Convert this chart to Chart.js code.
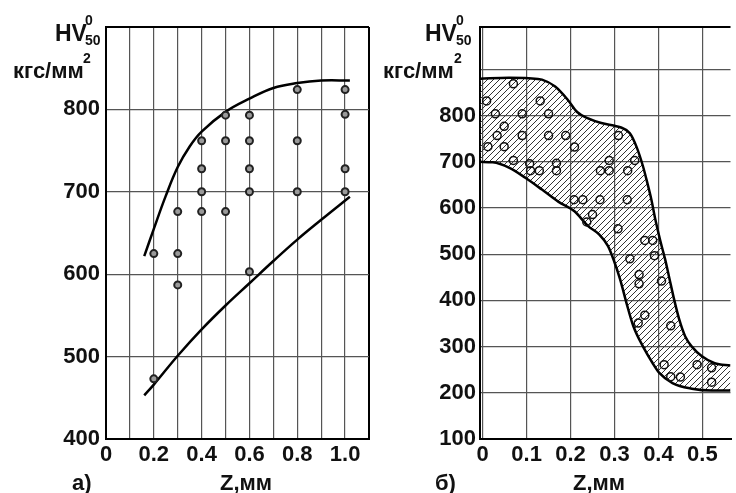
<!DOCTYPE html>
<html>
<head>
<meta charset="utf-8">
<script src="https://cdn.jsdelivr.net/npm/chart.js@4/dist/chart.umd.min.js"></script>
<style>
  html, body { margin: 0; padding: 0; background: #fff; overflow: hidden; }
  #a { position: absolute; left: 0; top: 0; }
  #b { position: absolute; left: 375px; top: 0; }
</style>
</head>
<body>
<canvas id="a" width="375" height="493"></canvas>
<canvas id="b" width="361" height="493"></canvas>
<script>
// ---- а) measured points and the two bounding curves
const zA = [0.2, 0.2, 0.3, 0.3, 0.3, 0.4, 0.4, 0.4, 0.4, 0.5, 0.5, 0.5, 0.6, 0.6, 0.6, 0.6, 0.6, 0.8, 0.8, 0.8, 1.0, 1.0, 1.0, 1.0]
const hvA = [625, 473, 676, 625, 587, 762, 728, 700, 676, 793, 762, 676, 793, 762, 728, 700, 603, 824, 762, 700, 824, 794, 728, 700]
const upperZA = [0.16, 0.2, 0.25, 0.3, 0.35, 0.4, 0.5, 0.6, 0.7, 0.8, 0.9, 1.02]
const upperHvA = [622, 655, 695, 730, 755, 773, 797, 813, 826, 832, 835, 835]
const lowerZA = [0.16, 0.2, 0.3, 0.4, 0.5, 0.6, 0.7, 0.8, 0.9, 1.02]
const lowerHvA = [453, 466, 501, 533, 562, 589, 616, 642, 666, 694]

const xTicksA = [0, 0.1, 0.2, 0.3, 0.4, 0.5, 0.6, 0.7, 0.8, 0.9, 1.0, 1.1]
const xLabelsA = ["0", "", "0.2", "", "0.4", "", "0.6", "", "0.8", "", "1.0", ""]
const yTicksA = [400, 500, 600, 700, 800, 900]
const yLabelsA = ["400", "500", "600", "700", "800", ""]

// ---- б) scatter band
const zB = [0.070, 0.009, 0.131, 0.029, 0.090, 0.150, 0.049, 0.033, 0.090, 0.150, 0.189, 0.309,
  0.012, 0.049, 0.209, 0.070, 0.107, 0.109, 0.129, 0.168, 0.168, 0.268, 0.288, 0.288, 0.330, 0.346,
  0.208, 0.228, 0.267, 0.329, 0.250, 0.237, 0.308, 0.369, 0.387, 0.335, 0.391, 0.356, 0.356, 0.407,
  0.369, 0.354, 0.428, 0.413, 0.428, 0.450, 0.488, 0.521, 0.521]
const hvB = [869, 832, 832, 804, 804, 804, 777, 757, 757, 757, 757, 757,
  733, 733, 732, 703, 696, 681, 681, 697, 681, 681, 703, 681, 681, 703,
  618, 618, 618, 618, 586, 570, 555, 530, 530, 490, 497, 456, 436, 442,
  368, 351, 345, 261, 235, 234, 261, 254, 223]
const upperZB = [-0.006, 0.06, 0.105, 0.135, 0.165, 0.194, 0.215, 0.24, 0.27, 0.30, 0.313, 0.335, 0.35,
  0.365, 0.373, 0.384, 0.393, 0.404, 0.415, 0.424, 0.435, 0.447, 0.461, 0.476, 0.499, 0.528, 0.564]
const upperHvB = [880, 882, 881, 878, 863, 834, 808, 794, 784, 778, 775, 762, 733,
  690, 661, 618, 575, 530, 490, 452, 405, 360, 322, 300, 279, 264, 259]
const lowerZB = [-0.006, 0.023, 0.061, 0.098, 0.135, 0.172, 0.209, 0.24, 0.265, 0.285, 0.298, 0.313,
  0.328, 0.343, 0.365, 0.387, 0.402, 0.432, 0.476, 0.521, 0.564]
const lowerHvB = [700, 699, 687, 665, 640, 614, 593, 561, 543, 518, 488, 445,
  392, 344, 300, 264, 243, 221, 209, 205, 205]

const xTicksB = [0, 0.1, 0.2, 0.3, 0.4, 0.5]
const xLabelsB = ["0", "0.1", "0.2", "0.3", "0.4", "0.5"]
const yTicksB = [100, 200, 300, 400, 500, 600, 700, 800, 900]
const yLabelsB = ["100", "200", "300", "400", "500", "600", "700", "800", ""]

const FONT = "'Liberation Sans', Arial, sans-serif"
const xy = (xs, ys) => xs.map((x, i) => ({ x, y: ys[i] }))

const hatch = (ctx) => {
  const c = document.createElement("canvas")
  c.width = 6
  c.height = 6
  const g = c.getContext("2d")
  g.strokeStyle = "#333"
  g.lineWidth = 1
  g.beginPath()
  g.moveTo(0, 6); g.lineTo(6, 0)
  g.moveTo(-1, 1); g.lineTo(1, -1)
  g.moveTo(5, 7); g.lineTo(7, 5)
  g.stroke()
  return ctx.createPattern(c, "repeat")
}

// axis titles drawn as text next to the chart area
const titles = {
  id: "titles",
  afterDraw(chart, args, opts) {
    const { ctx, chartArea } = chart
    ctx.save()
    ctx.fillStyle = "#111"
    ctx.textBaseline = "alphabetic"
    opts.items.forEach((t) => {
      ctx.font = "bold " + t.size + "px " + FONT
      const y = t.base === "bottom" ? chartArea.bottom + t.dy : chartArea.top + t.dy
      ctx.fillText(t.text, chartArea.left + t.dx, y)
    })
    ctx.restore()
  },
}

// fixed tick list plus the scale bounds (bounds give the frame lines)
const fixedTicks = (list) => (s) => {
  const vals = [s.min, ...list, s.max].filter((v, i, a) => a.findIndex((w) => Math.abs(w - v) < 1e-9) === i)
  s.ticks = vals.map((v) => ({ value: v }))
}
const labelFrom = (list, labels) => (v) => {
  const i = list.findIndex((t) => Math.abs(t - v) < 1e-9)
  return i < 0 ? "" : labels[i]
}

const gridStyle = (keepMax) => ({
  drawTicks: false,
  color: (c) => {
    const last = c.scale.ticks.length - 1
    if (c.index === last && !keepMax) return "rgba(0,0,0,0)"
    return c.index === 0 || c.index === last ? "#000" : "#555"
  },
  lineWidth: (c) => (c.index === 0 || c.index === c.scale.ticks.length - 1 ? 2 : 1.2),
})

const makeChart = (id, cfg) => {
  const ctx = document.getElementById(id).getContext("2d")
  const tickFont = { family: FONT, size: 22, weight: "bold" }
  return new Chart(ctx, {
    type: "scatter",
    data: { datasets: cfg.datasets(ctx) },
    options: {
      responsive: false,
      animation: false,
      layout: { padding: { top: 27, right: cfg.padRight, left: 0, bottom: 0 } },
      plugins: {
        legend: { display: false },
        tooltip: { enabled: false },
        titles: { items: cfg.titles },
      },
      scales: {
        x: {
          type: "linear",
          min: cfg.xMin,
          max: cfg.xMax,
          afterBuildTicks: fixedTicks(cfg.xTicks),
          afterFit: (s) => { s.height = 54 },
          ticks: {
            autoSkip: false,
            maxRotation: 0,
            padding: 3,
            color: "#111",
            font: tickFont,
            callback: labelFrom(cfg.xTicks, cfg.xLabels),
          },
          grid: gridStyle(cfg.rightFrame),
          border: { color: "#000", width: 2 },
        },
        y: {
          min: cfg.yMin,
          max: cfg.yMax,
          afterBuildTicks: fixedTicks(cfg.yTicks),
          afterFit: (s) => { s.width = cfg.yWidth },
          ticks: {
            autoSkip: false,
            padding: cfg.yPad,
            color: "#111",
            font: tickFont,
            callback: labelFrom(cfg.yTicks, cfg.yLabels),
          },
          grid: gridStyle(true),
          border: { color: "#000", width: 2 },
        },
      },
    },
    plugins: [titles],
  })
}

makeChart("a", {
  xMin: 0,
  xMax: 1.1,
  yMin: 400,
  yMax: 900,
  xTicks: xTicksA,
  xLabels: xLabelsA,
  yTicks: yTicksA,
  yLabels: yLabelsA,
  rightFrame: true,
  yWidth: 106,
  yPad: 6,
  padRight: 3,
  titles: [
    { text: "HV", size: 23, dx: -51, dy: 14 },
    { text: "0", size: 14, dx: -21, dy: -2 },
    { text: "50", size: 14, dx: -21, dy: 18 },
    { text: "кгс/мм", size: 22, dx: -93, dy: 51 },
    { text: "2", size: 14, dx: -23, dy: 36 },
    { text: "а)", size: 22, dx: -34, dy: 51, base: "bottom" },
    { text: "Z,мм", size: 22, dx: 114, dy: 51, base: "bottom" },
  ],
  datasets: () => [
    {
      data: xy(zA, hvA),
      pointRadius: 3.5,
      pointBackgroundColor: "#9a9a9a",
      pointBorderColor: "#222",
      pointBorderWidth: 2,
    },
    {
      data: xy(upperZA, upperHvA),
      showLine: true,
      pointRadius: 0,
      borderColor: "#000",
      borderWidth: 2.5,
      tension: 0.4,
    },
    {
      data: xy(lowerZA, lowerHvA),
      showLine: true,
      pointRadius: 0,
      borderColor: "#000",
      borderWidth: 2.5,
      tension: 0.4,
    },
  ],
})

makeChart("b", {
  xMin: -0.006,
  xMax: 0.564,
  yMin: 100,
  yMax: 992,
  xTicks: xTicksB,
  xLabels: xLabelsB,
  yTicks: yTicksB,
  yLabels: yLabelsB,
  rightFrame: false,
  yWidth: 105,
  yPad: 4,
  padRight: 0,
  titles: [
    { text: "HV", size: 23, dx: -55, dy: 14 },
    { text: "0", size: 14, dx: -24, dy: -2 },
    { text: "50", size: 14, dx: -24, dy: 18 },
    { text: "кгс/мм", size: 22, dx: -97, dy: 51 },
    { text: "2", size: 14, dx: -26, dy: 36 },
    { text: "б)", size: 22, dx: -45, dy: 51, base: "bottom" },
    { text: "Z,мм", size: 22, dx: 93, dy: 51, base: "bottom" },
  ],
  datasets: (ctx) => [
    {
      data: xy(zB, hvB),
      pointRadius: 4,
      pointBackgroundColor: "rgba(255,255,255,0)",
      pointBorderColor: "#111",
      pointBorderWidth: 1.5,
    },
    {
      data: xy(lowerZB, lowerHvB),
      showLine: true,
      pointRadius: 0,
      borderColor: "#000",
      borderWidth: 2.5,
      cubicInterpolationMode: "monotone",
    },
    {
      data: xy(upperZB, upperHvB),
      showLine: true,
      pointRadius: 0,
      borderColor: "#000",
      borderWidth: 2.5,
      cubicInterpolationMode: "monotone",
      fill: 1,
      backgroundColor: hatch(ctx),
    },
  ],
})
</script>
</body>
</html>
